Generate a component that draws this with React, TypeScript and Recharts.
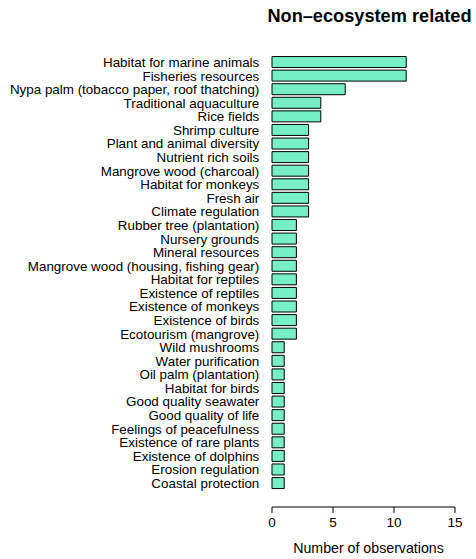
import { BarChart, Bar, XAxis, YAxis } from 'recharts';

const services = [
  'Habitat for marine animals',
  'Fisheries resources',
  'Nypa palm (tobacco paper, roof thatching)',
  'Traditional aquaculture',
  'Rice fields',
  'Shrimp culture',
  'Plant and animal diversity',
  'Nutrient rich soils',
  'Mangrove wood (charcoal)',
  'Habitat for monkeys',
  'Fresh air',
  'Climate regulation',
  'Rubber tree (plantation)',
  'Nursery grounds',
  'Mineral resources',
  'Mangrove wood (housing, fishing gear)',
  'Habitat for reptiles',
  'Existence of reptiles',
  'Existence of monkeys',
  'Existence of birds',
  'Ecotourism (mangrove)',
  'Wild mushrooms',
  'Water purification',
  'Oil palm (plantation)',
  'Habitat for birds',
  'Good quality seawater',
  'Good quality of life',
  'Feelings of peacefulness',
  'Existence of rare plants',
  'Existence of dolphins',
  'Erosion regulation',
  'Coastal protection',
];

const observations = [11, 11, 6, 4, 4, 3, 3, 3, 3, 3, 3, 3, 2, 2, 2, 2, 2, 2, 2, 2, 2, 1, 1, 1, 1, 1, 1, 1, 1, 1, 1, 1];

const xTicks = [0, 5, 10, 15];

const FONT = '"Liberation Sans", Arial, Helvetica, sans-serif';

// plain svg text so long names never wrap
function ServiceTick(props: any) {
  const { x, y, payload } = props;
  return (
    <text x={x} y={y} dy="0.355em" textAnchor="end" fontSize={13.4} fill="#000" fontFamily={FONT}>
      {payload.value}
    </text>
  );
}

export default function App() {
  const data = services.map((name, i) => ({ name, count: observations[i] }));

  return (
    <div style={{ position: 'absolute', left: 0, top: 0, width: 476, height: 559, fontFamily: FONT }}>
      <div
        style={{
          position: 'absolute',
          left: 219.5,
          top: 6.5,
          width: 300,
          textAlign: 'center',
          fontWeight: 'bold',
          fontSize: 18.2,
          lineHeight: '18px',
          whiteSpace: 'nowrap',
          color: '#000',
        }}
      >
        Non–ecosystem related
      </div>
      <BarChart
        width={476}
        height={559}
        data={data}
        layout="vertical"
        margin={{ top: 55.4, right: 21, bottom: 0, left: 0 }}
        barCategoryGap="8.4%"
      >
        <XAxis
          type="number"
          domain={[0, 15]}
          ticks={xTicks}
          height={52}
          stroke="#000"
          tickSize={6}
          tickMargin={4}
          tick={{ fontSize: 13.5, fill: '#000', fontFamily: FONT }}
          label={{
            value: 'Number of observations',
            position: 'insideBottom',
            offset: 6.5,
            dx: 5,
            fontSize: 14.2,
            fill: '#000',
            fontFamily: FONT,
          }}
        />
        <YAxis
          type="category"
          dataKey="name"
          width={272}
          interval={0}
          axisLine={false}
          tickLine={false}
          tickSize={0}
          tickMargin={12.7}
          padding={{ top: 0, bottom: 17 }}
          tick={ServiceTick}
        />
        <Bar dataKey="count" fill="#76EEC6" stroke="#000" strokeWidth={1} isAnimationActive={false} />
      </BarChart>
    </div>
  );
}
